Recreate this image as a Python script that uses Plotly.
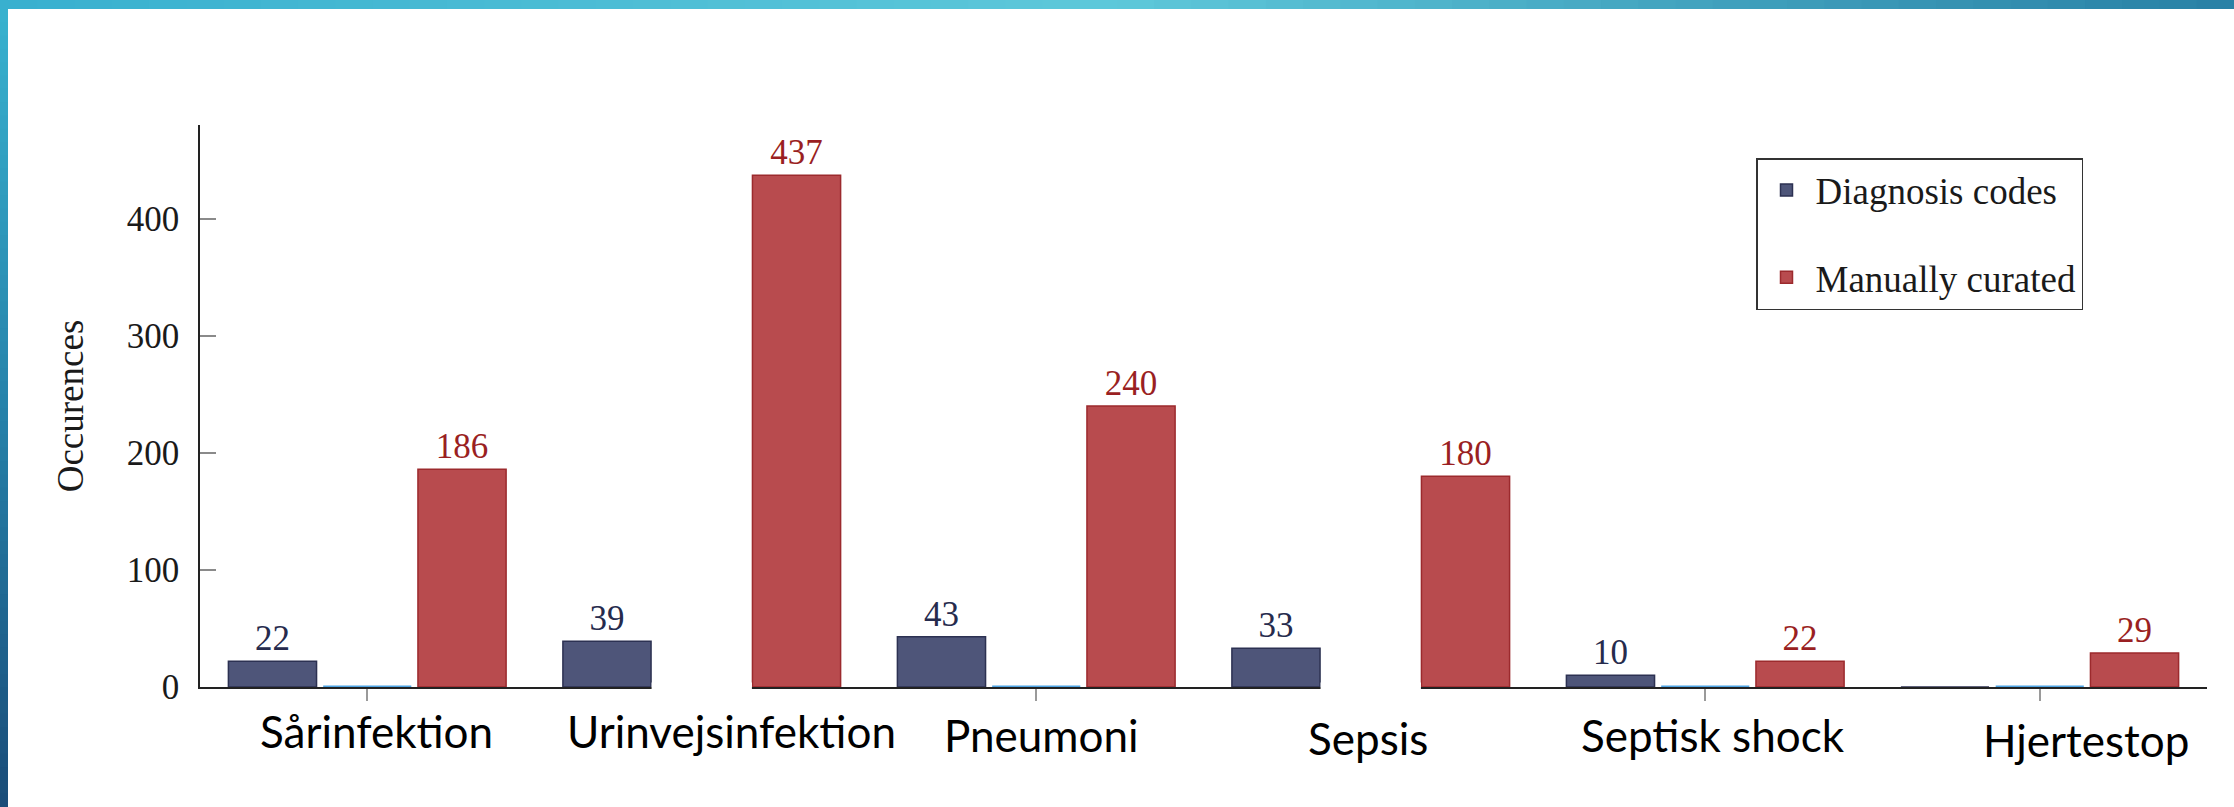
import plotly.graph_objects as go

# data
categories = ["Sårinfektion", "Urinvejsinfektion", "Pneumoni", "Sepsis", "Septisk shock", "Hjertestop"]
diagnosis_codes = [22, 39, 43, 33, 10, 0]
manually_curated = [186, 437, 240, 180, 22, 29]
# third series of the original figure, only its zero line is left visible
hidden_series = [0, None, 0, None, 0, 0]
y_ticks = [0, 100, 200, 300, 400]

# style
BLUE = "#4e5579"
BLUE_EDGE = "#2c3152"
RED = "#b84b4e"
RED_EDGE = "#9c2a2d"
GHOST = "#4ea4e4"
SERIF = "Liberation Serif, DejaVu Serif, serif"
SANS = "Lato, Roboto, sans-serif"

W, H = 2234, 807
M_L, M_R, M_T, M_B = 200, 27, 125, 120

# small shifts of the category labels (they were placed by hand on the slide)
LABEL_DX = [9, 30, 5, -3, 8, 46]
LABEL_DY = [-6, -6, -2, 1, -2, 3]


def paper_x(px):
    return (px - M_L) / (W - M_L - M_R)


def paper_y(py):
    return (H - M_B - py) / (H - M_T - M_B)


def mix(stops, t):
    """interpolate between colour stops, t in [0, 1]"""
    n = len(stops) - 1
    i = min(int(t * n), n - 1)
    f = t * n - i
    a, b = stops[i], stops[i + 1]
    return "rgb(%d,%d,%d)" % tuple(round(a[k] + (b[k] - a[k]) * f) for k in range(3))


def bar_trace(name, values, fill, edge, text_color):
    return go.Bar(
        x=categories,
        y=values,
        name=name,
        legendgroup=name,
        marker=dict(color=fill, line=dict(color=edge, width=1.5)),
        text=[str(v) if v else "" for v in values],
        textposition="outside",
        textfont=dict(family=SERIF, size=35, color=text_color),
        cliponaxis=False,
        hoverinfo="x+y+name",
    )


fig = go.Figure()
fig.add_trace(bar_trace("Diagnosis codes", diagnosis_codes, BLUE, BLUE_EDGE, "#262b4d"))
fig.add_trace(go.Bar(
    x=categories,
    y=hidden_series,
    name="hidden",
    marker=dict(color=GHOST, line=dict(color=GHOST, width=3)),
    showlegend=False,
    cliponaxis=False,
))
fig.add_trace(bar_trace("Manually curated", manually_curated, RED, RED_EDGE, "#9a1f22"))

shapes = []
# white boxes that hide parts of the original figure (baseline and tick)
for i in [1, 3]:
    shapes.append(dict(type="rect", xref="x", yref="paper", x0=i - 0.15, x1=i + 0.15,
                       y0=-0.03, y1=0.008, fillcolor="white", line=dict(width=0), layer="above"))

# slide border: gradient strips on top and left
top_stops = [(56, 176, 207), (94, 200, 218), (40, 128, 165)]
left_stops = [(56, 178, 207), (38, 130, 170), (26, 76, 120)]
n = 60
for k in range(n):
    x0 = W * k / n
    x1 = W * (k + 1) / n
    shapes.append(dict(type="rect", xref="paper", yref="paper",
                       x0=paper_x(x0), x1=paper_x(x1) + 0.001, y0=paper_y(9), y1=paper_y(0),
                       fillcolor=mix(top_stops, (k + 0.5) / n), line=dict(width=0), layer="above"))
for k in range(n):
    y0 = 9 + (H - 9) * k / n
    y1 = 9 + (H - 9) * (k + 1) / n
    shapes.append(dict(type="rect", xref="paper", yref="paper",
                       x0=paper_x(0), x1=paper_x(8), y0=paper_y(y1) - 0.002, y1=paper_y(y0),
                       fillcolor=mix(left_stops, (k + 0.5) / n), line=dict(width=0), layer="above"))

annotations = []
for i, cat in enumerate(categories):
    annotations.append(dict(
        x=cat, xref="x", y=paper_y(737), yref="paper",
        text=cat, showarrow=False, xanchor="center", yanchor="middle",
        xshift=LABEL_DX[i], yshift=-LABEL_DY[i],
        font=dict(family=SANS, size=44, color="black"),
    ))

fig.update_layout(
    template="none",
    width=W,
    height=H,
    margin=dict(l=M_L, r=M_R, t=M_T, b=M_B),
    paper_bgcolor="white",
    plot_bgcolor="white",
    barmode="group",
    bargap=0.15,
    bargroupgap=0.07,
    shapes=shapes,
    annotations=annotations,
    legend=dict(
        x=paper_x(1756), y=paper_y(158), xanchor="left", yanchor="top",
        bgcolor="white", bordercolor="#333333", borderwidth=1.5,
        font=dict(family=SERIF, size=37, color="#1a1a1a"),
        traceorder="grouped", tracegroupgap=36, itemwidth=48,
    ),
    xaxis=dict(
        type="category",
        range=[-0.5, 5.5],
        showline=True, linecolor="#222222", linewidth=1.5,
        ticks="outside", ticklen=12, tickcolor="#9a9a9a", tickwidth=1.5,
        showticklabels=False, showgrid=False, zeroline=False,
    ),
    yaxis=dict(
        range=[0, 480],
        tickvals=y_ticks,
        showline=True, linecolor="#222222", linewidth=1.5,
        ticks="inside", ticklen=16, tickcolor="#8a8a8a", tickwidth=1.5,
        tickfont=dict(family=SERIF, size=35, color="#1a1a1a"),
        ticklabelstandoff=12,
        showgrid=False, zeroline=False,
        title=dict(text="Occurences", font=dict(family=SERIF, size=37, color="#1a1a1a"), standoff=32),
    ),
)

# the page has a default 8px body margin; drop it so the figure sits at the corner
fig.write_html("out.html", config={"displayModeBar": False},
               post_script="document.body.style.margin = '0';")
